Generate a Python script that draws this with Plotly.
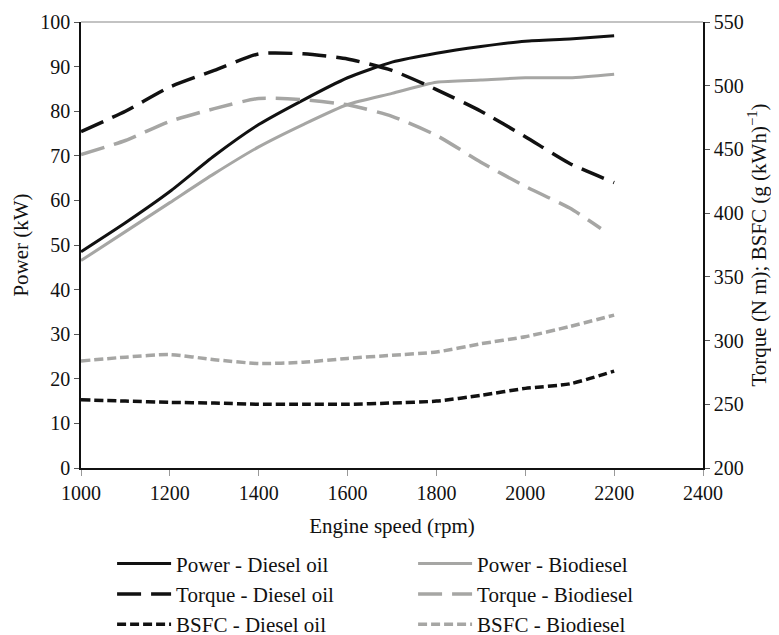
import plotly.graph_objects as go

rpm = [1000, 1100, 1200, 1300, 1400, 1500, 1600, 1700, 1800, 1900, 2000, 2100, 2200]
rpm_torque_bio = [1000, 1100, 1200, 1300, 1400, 1500, 1600, 1700, 1800, 1900, 2000, 2100, 2170]

power_diesel = [48.5, 55.0, 62.0, 70.0, 77.0, 82.5, 87.5, 91.0, 93.0, 94.5, 95.7, 96.2, 96.9]
power_bio = [46.5, 53.0, 59.5, 66.0, 72.0, 77.0, 81.5, 84.0, 86.5, 87.0, 87.5, 87.5, 88.3]

torque_diesel = [464, 480, 499, 512, 525, 525, 521, 512, 497, 480, 460, 439, 424]
torque_bio = [446, 457, 472, 482, 490, 489, 485, 476, 461, 440, 421, 404, 388]

bsfc_diesel = [253.5, 252.5, 251.5, 251, 250, 250, 250, 251, 252.5, 257, 262.5, 266, 276]
bsfc_bio = [284, 287, 289, 285, 282, 283, 286, 288.5, 291, 297.5, 303, 311, 320]

x_ticks = [1000, 1200, 1400, 1600, 1800, 2000, 2200, 2400]

BLACK = "#111111"
GREY = "#a6a6a4"
FONT = "Liberation Serif"

fig = go.Figure()
fig.add_trace(go.Scatter(x=rpm, y=power_diesel, name="Power - Diesel oil", mode="lines",
                         line=dict(color=BLACK, width=3, shape="spline", smoothing=0.6)))
fig.add_trace(go.Scatter(x=rpm, y=power_bio, name="Power - Biodiesel", mode="lines",
                         line=dict(color=GREY, width=3, shape="spline", smoothing=0.6)))
fig.add_trace(go.Scatter(x=rpm, y=torque_diesel, name="Torque - Diesel oil", mode="lines", yaxis="y2",
                         line=dict(color=BLACK, width=3.5, dash="24px,10px", shape="spline", smoothing=0.6)))
fig.add_trace(go.Scatter(x=rpm_torque_bio, y=torque_bio, name="Torque - Biodiesel", mode="lines", yaxis="y2",
                         line=dict(color=GREY, width=3.5, dash="24px,10px", shape="spline", smoothing=0.6)))
fig.add_trace(go.Scatter(x=rpm, y=bsfc_diesel, name="BSFC - Diesel oil", mode="lines", yaxis="y2",
                         line=dict(color=BLACK, width=3.5, dash="9px,4px", shape="spline", smoothing=0.6)))
fig.add_trace(go.Scatter(x=rpm, y=bsfc_bio, name="BSFC - Biodiesel", mode="lines", yaxis="y2",
                         line=dict(color=GREY, width=3.5, dash="9px,4px", shape="spline", smoothing=0.6)))

fig.update_layout(
    width=771, height=627,
    margin=dict(l=73, r=76, t=14, b=167, autoexpand=False),
    paper_bgcolor="white", plot_bgcolor="white",
    font=dict(family=FONT, size=20, color="#111111"),
    showlegend=True,
    legend=dict(orientation="h", xref="container", yref="container",
                x=0.135, y=0.146, xanchor="left", yanchor="top",
                entrywidth=232, entrywidthmode="pixels", itemwidth=54,
                font=dict(family=FONT, size=21, color="#111111"),
                traceorder="normal", tracegroupgap=0, itemclick=False,
                bgcolor="rgba(0,0,0,0)"),
    xaxis=dict(range=[1000, 2400], tickvals=x_ticks, showgrid=False, zeroline=False,
               showline=True, linecolor="#111111", linewidth=1.5,
               ticks="outside", ticklen=6, tickcolor="#999999",
               title=dict(text="Engine speed (rpm)", standoff=16, font=dict(size=21)),
               tickfont=dict(size=20)),
    yaxis=dict(range=[0, 100], dtick=10, showgrid=False, zeroline=False,
               showline=True, linecolor="#111111", linewidth=1.5,
               ticks="outside", ticklen=5, tickcolor="#555555",
               title=dict(text="Power (kW)", standoff=6, font=dict(size=21)),
               tickfont=dict(size=20)),
    yaxis2=dict(range=[200, 550], dtick=50, overlaying="y", side="right", showgrid=False,
                zeroline=False, showline=True, linecolor="#111111", linewidth=1.5,
                ticks="outside", ticklen=5, tickcolor="#555555",
                title=dict(text="Torque (N m); BSFC (g (kWh)<sup>−1</sup>)", standoff=6, font=dict(size=21)),
                tickfont=dict(size=20)),
)
fig.add_shape(type="line", xref="paper", yref="paper", x0=0, x1=1, y0=1, y1=1,
              line=dict(color="#888888", width=1.2))

fig.write_html("out.html")
